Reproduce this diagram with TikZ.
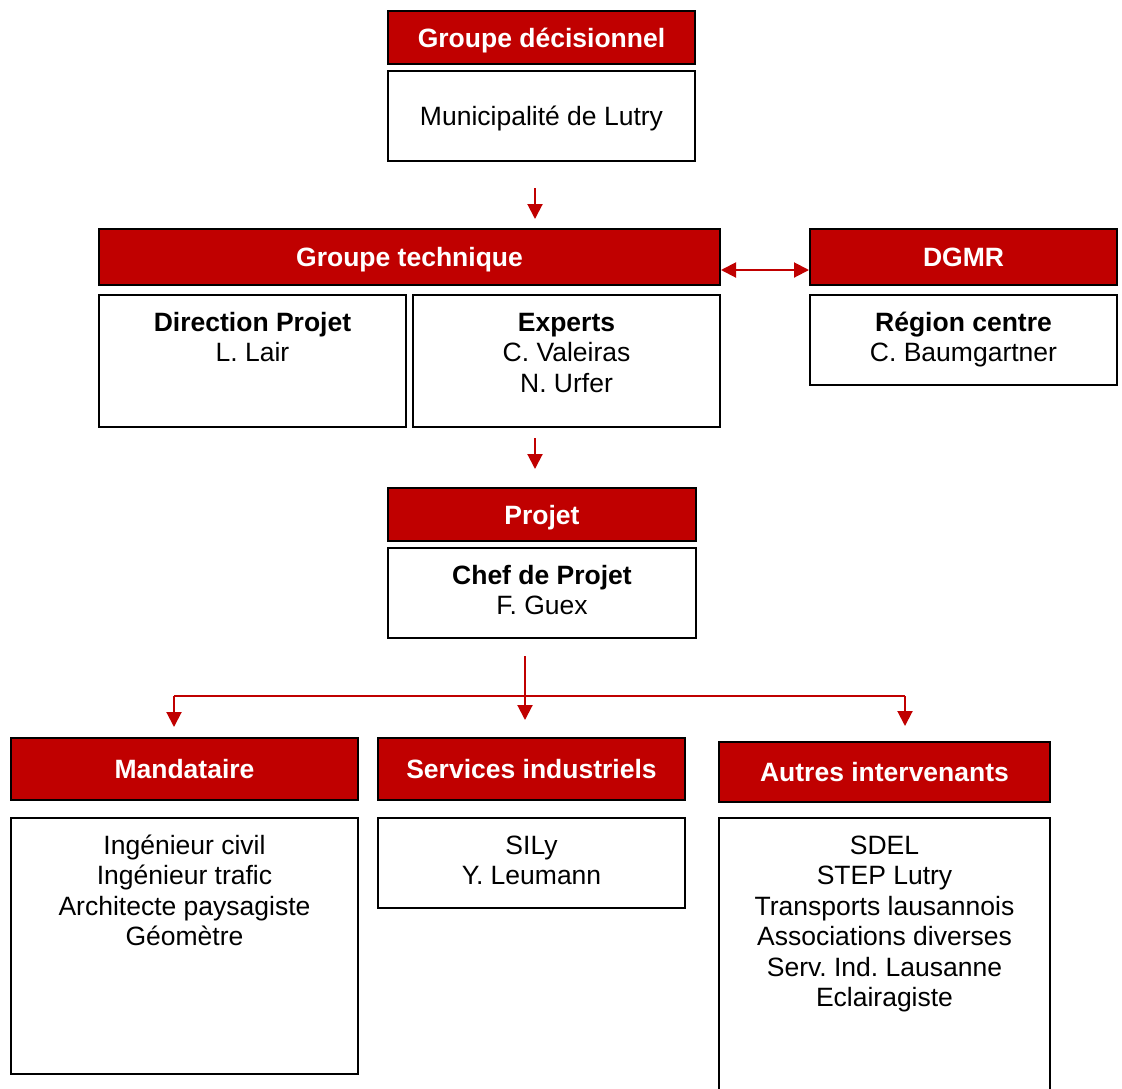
\documentclass[tikz,border=0pt]{standalone}
\usepackage{fontspec}
\setmainfont{Liberation Sans}
\usetikzlibrary{arrows.meta,calc}
\definecolor{hdr}{HTML}{C00000}
\newcommand{\fl}{\rule{0pt}{20pt}}
\frenchspacing
\begin{document}
\begin{tikzpicture}[x=1pt,y=-1pt,
  font=\fontsize{26.5}{30.5}\selectfont,
  hbox/.style={draw=black, line width=2pt, fill=hdr, text=white, font=\fontsize{26.5}{30.5}\selectfont\bfseries, inner sep=0pt, text height=19pt, text depth=0pt},
  wbox/.style={draw=black, line width=2pt, fill=white, inner sep=0pt, text height=19pt, text depth=0pt},
  txt/.style={anchor=north, align=center, inner sep=0pt},
  arr/.style={draw=hdr, line width=2pt, -{Triangle[width=15pt,length=15pt]}},
  darr/.style={draw=hdr, line width=2pt, {Triangle[width=15pt,length=15pt]}-{Triangle[width=15pt,length=15pt]}},
  rline/.style={draw=hdr, line width=2pt}]
\useasboundingbox (0,0) rectangle (1122,1088);
\clip (0,0) rectangle (1122,1088);
\fill[white] (0,0) rectangle (1122,1088);

% Groupe decisionnel
\node[hbox, minimum width=307pt, minimum height=53pt] (h1) at (541.5,37.5) {Groupe décisionnel};
\node[wbox, minimum width=307pt, minimum height=90pt] (b1) at (541.5,116) {Municipalité de Lutry};

% Groupe technique
\node[hbox, minimum width=621pt, minimum height=56pt] (h2) at (409.5,257) {Groupe technique};
\node[wbox, minimum width=307pt, minimum height=132pt] (b2a) at (252.5,361) {};
\node[wbox, minimum width=307pt, minimum height=132pt] (b2b) at (566.5,361) {};
\node[txt] (t2a) at ($(b2a.north)+(0,17)$) {\fl\textbf{Direction Projet}\\L. Lair};
\node[txt] (t2b) at ($(b2b.north)+(0,17)$) {\fl\textbf{Experts}\\C. Valeiras\\N. Urfer};

% DGMR
\node[hbox, minimum width=307pt, minimum height=56pt] (h3) at (963.5,257) {DGMR};
\node[wbox, minimum width=307pt, minimum height=90pt] (b3) at (963.5,340) {};
\node[txt] (t3) at ($(b3.north)+(0,17)$) {\fl\textbf{Région centre}\\C. Baumgartner};

% Projet
\node[hbox, minimum width=308pt, minimum height=53pt] (h4) at (542,514.5) {Projet};
\node[wbox, minimum width=308pt, minimum height=90pt] (b4) at (542,593) {};
\node[txt] (t4) at ($(b4.north)+(0,17)$) {\fl\textbf{Chef de Projet}\\F. Guex};

% Bottom row
\node[hbox, minimum width=347pt, minimum height=62pt] (h5) at (184.5,769) {Mandataire};
\node[wbox, minimum width=347pt, minimum height=256pt] (b5) at (184.5,946) {};
\node[txt] (t5) at ($(b5.north)+(0,17)$) {\fl Ingénieur civil\\Ingénieur trafic\\Architecte paysagiste\\Géomètre};

\node[hbox, minimum width=307pt, minimum height=62pt] (h6) at (531.5,769) {Services industriels};
\node[wbox, minimum width=307pt, minimum height=90pt] (b6) at (531.5,863) {};
\node[txt] (t6) at ($(b6.north)+(0,17)$) {\fl SILy\\Y. Leumann};

\node[hbox, minimum width=331pt, minimum height=60pt] (h7) at (884.5,772) {Autres intervenants};
\node[wbox, minimum width=331pt, minimum height=280pt] (b7) at (884.5,958) {};
\node[txt] (t7) at ($(b7.north)+(0,17)$) {\fl SDEL\\STEP Lutry\\Transports lausannois\\Associations diverses\\Serv. Ind. Lausanne\\Eclairagiste};

% Connectors
\coordinate (ax1) at (535,0);
\draw[arr, shorten <=26pt, shorten >=9pt] (b1.south -| ax1) -- (h2.north -| ax1);
\draw[darr] ([yshift=-13pt]h2.east) -- ([yshift=-13pt]h3.west);
\coordinate (ax2) at (535,0);
\draw[arr, shorten <=10pt, shorten >=18pt] (b2b.south -| ax2) -- (h4.north -| ax2);

\coordinate (ax3) at (525,0);
\draw[arr, shorten <=17pt, shorten >=17pt] (b4.south -| ax3) -- (h6.north -| ax3);
\coordinate (jl) at (174,696);
\coordinate (jr) at (905,696);
\draw[rline] (jl) -- (jr);
\draw[arr, shorten >=10pt] (jl) -- (jl |- h5.north);
\draw[arr, shorten >=15pt] (jr) -- (jr |- h7.north);
\end{tikzpicture}
\end{document}
